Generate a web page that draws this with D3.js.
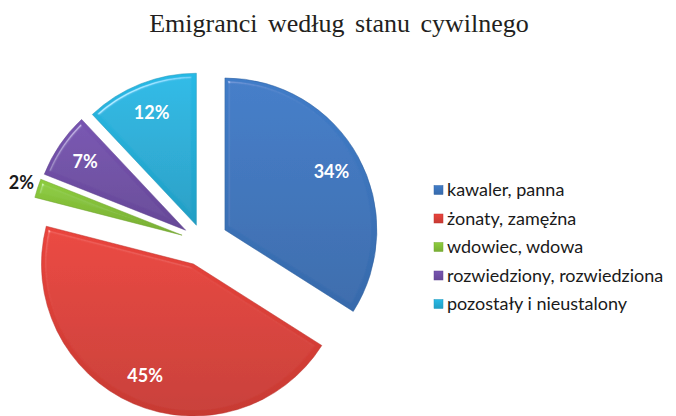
<!DOCTYPE html>
<html>
<head>
<meta charset="utf-8">
<script src="https://cdn.jsdelivr.net/npm/d3@7"></script>
<style>
  body { margin: 0; background: #fff; }
  svg { display: block; }
</style>
</head>
<body>
<svg id="chart"></svg>
<script>
const WIDTH = 676;
const HEIGHT = 416;

// data
const categories = ["kawaler, panna", "żonaty, zamężna", "wdowiec, wdowa", "rozwiedziony, rozwiedziona", "pozostały i nieustalony"];
const shares = [34, 45, 2, 7, 12];
const labels = ["34%", "45%", "2%", "7%", "12%"];
const title = "Emigranci według stanu cywilnego";

const colors = ["#3d76be", "#de4039", "#86c23a", "#7150a8", "#26b0da"];
// how far each slice is pulled out of the pie (px)
const explode = [25, 24, 22, 21, 18];

const cx = 203, cy = 242;
const radius = 152;

const svg = d3.select("#chart").attr("width", WIDTH).attr("height", HEIGHT);
const defs = svg.append("defs");

// vertical shading on every slice, light top -> dark bottom
colors.forEach((c, i) => {
  const g = defs.append("linearGradient")
    .attr("id", "grad" + i)
    .attr("x1", 0).attr("y1", 0).attr("x2", 0).attr("y2", 1);
  g.append("stop").attr("offset", "0%").attr("stop-color", d3.color(c).brighter(0.15));
  g.append("stop").attr("offset", "100%").attr("stop-color", d3.color(c).darker(0.3));
});

// soft bevel on slice edges
const bevel = defs.append("filter").attr("id", "bevel")
  .attr("x", "-10%").attr("y", "-10%").attr("width", "120%").attr("height", "120%");
bevel.append("feGaussianBlur").attr("in", "SourceAlpha").attr("stdDeviation", 2).attr("result", "blur");
bevel.append("feSpecularLighting")
  .attr("in", "blur").attr("surfaceScale", 4).attr("specularConstant", 0.6)
  .attr("specularExponent", 60).attr("lighting-color", "#ffffff").attr("result", "spec")
  .append("feDistantLight").attr("azimuth", 235).attr("elevation", 50);
bevel.append("feComposite").attr("in", "spec").attr("in2", "SourceAlpha").attr("operator", "in").attr("result", "specIn");
bevel.append("feComposite").attr("in", "SourceGraphic").attr("in2", "specIn")
  .attr("operator", "arithmetic").attr("k1", 0).attr("k2", 1).attr("k3", 0.7).attr("k4", 0);

svg.append("text")
  .attr("x", 339)
  .attr("y", 32)
  .attr("text-anchor", "middle")
  .attr("font-family", "'Liberation Serif', 'Times New Roman', serif")
  .attr("font-size", 26)
  .attr("word-spacing", 4)
  .attr("fill", "#231f20")
  .text(title);

const pie = d3.pie().sort(null).value(d => d);
const arcs = pie(shares);
const arc = d3.arc().innerRadius(0).outerRadius(radius);

function offset(d, r) {
  const a = (d.startAngle + d.endAngle) / 2;
  return [Math.sin(a) * r, -Math.cos(a) * r];
}

const slices = svg.append("g")
  .attr("transform", `translate(${cx},${cy})`);

slices.selectAll("path")
  .data(arcs)
  .join("path")
  .attr("transform", (d, i) => `translate(${offset(d, explode[i])})`)
  .attr("d", arc)
  .attr("fill", (d, i) => `url(#grad${i})`)
  .attr("stroke", (d, i) => d3.color(colors[i]).darker(0.5))
  .attr("stroke-width", 0.5)
  .attr("filter", "url(#bevel)");

// percentage labels: inside for big slices, outside for the tiny one
slices.selectAll("text")
  .data(arcs)
  .join("text")
  .attr("transform", (d, i) => {
    const inside = d.data >= 5;
    const e = offset(d, explode[i]);
    const p = offset(d, inside ? radius * 0.8 : radius + 17);
    return `translate(${e[0] + p[0]},${e[1] + p[1]})`;
  })
  .attr("text-anchor", "middle")
  .attr("dy", "0.35em")
  .attr("font-family", "Lato, 'Open Sans', sans-serif")
  .attr("font-weight", "bold")
  .attr("font-size", 18)
  .attr("fill", d => d.data >= 5 ? "#ffffff" : "#1a1a1a")
  .text((d, i) => labels[i]);

// legend
const legend = svg.append("g").attr("transform", "translate(434,190)");
const rowStep = 28.5;

const rows = legend.selectAll("g")
  .data(categories)
  .join("g")
  .attr("transform", (d, i) => `translate(0,${i * rowStep})`);

rows.append("rect")
  .attr("x", 0).attr("y", -4.5)
  .attr("width", 9).attr("height", 9)
  .attr("fill", (d, i) => `url(#grad${i})`)
  .attr("stroke", (d, i) => d3.color(colors[i]).darker(0.4))
  .attr("stroke-width", 0.5);

rows.append("text")
  .attr("x", 13)
  .attr("dy", "0.35em")
  .attr("font-family", "Lato, 'Open Sans', sans-serif")
  .attr("font-size", 18)
  .attr("fill", "#1a1a1a")
  .text(d => d);
</script>
</body>
</html>
